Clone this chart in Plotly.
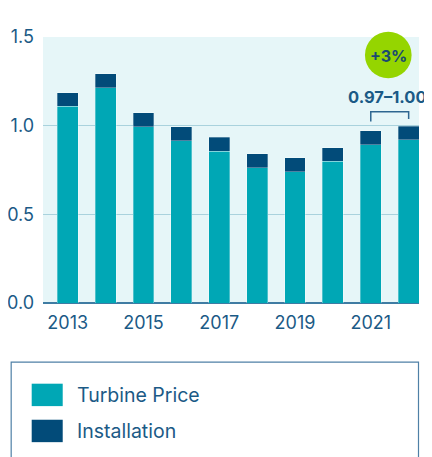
import plotly.graph_objects as go

years = [2013, 2014, 2015, 2016, 2017, 2018, 2019, 2020, 2021, 2022]
turbine_price = [1.11, 1.215, 0.995, 0.915, 0.857, 0.763, 0.740, 0.798, 0.892, 0.920]
installation = [0.077, 0.078, 0.077, 0.078, 0.078, 0.078, 0.078, 0.078, 0.079, 0.078]
y_ticks = [0.0, 0.5, 1.0, 1.5]
x_ticks = [2013, 2015, 2017, 2019, 2021]
range_label = "0.97–1.00"
change_label = "+3%"

OFF = 8  # default page body margin
W, H = 432 - OFF, 457 - OFF
L, T = 43.3 - OFF, 37 - OFF
R = W - (419 - OFF)
B = H - (302.7 - OFF)
pw, ph = W - L - R, H - T - B

def px(x):  # window pixel -> paper
    return (x - OFF - L) / pw

def py(y):
    return (H - B - (y - OFF)) / ph

TEAL = "#00A7B5"
NAVY = "#024B79"
TXT = "#1B5A86"

fig = go.Figure()
fig.add_trace(go.Bar(x=years, y=turbine_price, name="Turbine Price",
                     marker=dict(color=TEAL, line=dict(width=0.6, color="rgba(255,255,255,0.5)"))))
fig.add_trace(go.Bar(x=years, y=installation, name="Installation",
                     marker=dict(color=NAVY, line=dict(width=0.6, color="rgba(255,255,255,0.5)"))))

shapes = []
annotations = []

# bracket over 2021-2022
shapes.append(dict(type="path", xref="x", yref="paper",
                   path=f"M {years[-2]},{py(121.5)} L {years[-2]},{py(111.7)} L {years[-1]},{py(111.7)} L {years[-1]},{py(119)}",
                   line=dict(color="#2E6690", width=1.5)))
annotations.append(dict(text=f"<b>{range_label}</b>", x=px(346), y=py(96.5), xref="paper", yref="paper",
                        xanchor="left", yanchor="middle", showarrow=False,
                        font=dict(size=16.5, color=TXT, family="Inter")))
# +3% circle
shapes.append(dict(type="circle", xref="paper", yref="paper",
                   x0=px(388.3 - 23.3), x1=px(388.3 + 23.3), y0=py(55 + 23.3), y1=py(55 - 23.3),
                   fillcolor="#95D500", line=dict(width=0), layer="above"))
annotations.append(dict(text=f"<b>{change_label}</b>", x=px(388.3), y=py(55.5), xref="paper", yref="paper",
                        xanchor="center", yanchor="middle", showarrow=False,
                        font=dict(size=16, color="#1A4A70", family="Inter")))

# legend box
shapes.append(dict(type="rect", xref="paper", yref="paper",
                   x0=px(11.5), x1=px(418.5), y0=py(480), y1=py(361.7),
                   line=dict(color="#4F80A6", width=1.2), fillcolor="rgba(0,0,0,0)"))
for i, (name, col) in enumerate([("Turbine Price", TEAL), ("Installation", NAVY)]):
    cy = 394.5 + i * 36
    shapes.append(dict(type="rect", xref="paper", yref="paper",
                       x0=px(32), x1=px(63), y0=py(cy + 11.2), y1=py(cy - 11.2),
                       fillcolor=col, line=dict(width=0)))
    annotations.append(dict(text=name, x=px(75), y=py(cy), xref="paper", yref="paper",
                            xanchor="left", yanchor="middle", showarrow=False,
                            font=dict(size=19.5, color=TXT, family="Inter")))

fig.update_layout(
    width=W, height=H,
    margin=dict(l=L, r=R, t=T, b=B, pad=0, autoexpand=False),
    barmode="stack", bargap=0.45,
    showlegend=False,
    paper_bgcolor="white", plot_bgcolor="#E6F6F8",
    font=dict(family="Inter", size=18, color=TXT),
    shapes=shapes, annotations=annotations,
    xaxis=dict(range=[2012.347, 2022.273], tickvals=x_ticks, ticktext=[str(v) for v in x_ticks],
               showgrid=False, zeroline=False, showline=False, ticks="", automargin=False,
               ticklabelstandoff=7,
               tickfont=dict(size=18, color=TXT), fixedrange=True),
    yaxis=dict(range=[0, 1.5], tickvals=y_ticks, ticktext=[f"{v:.1f}" for v in y_ticks],
               showgrid=True, gridcolor="#A9D2DD", gridwidth=1,
               zeroline=True, zerolinecolor="#3F7CA3", zerolinewidth=1.5,
               showline=False, ticks="", automargin=False, ticklabelstandoff=8,
               tickfont=dict(size=18, color=TXT), fixedrange=True),
)

fig.write_html("out.html")
